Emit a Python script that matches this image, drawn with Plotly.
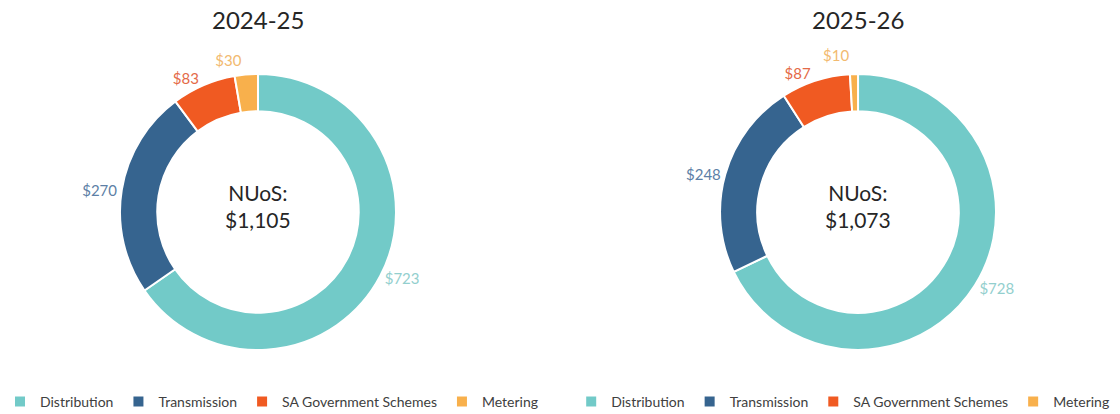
import plotly.graph_objects as go

categories = ["Distribution", "Transmission", "SA Government Schemes", "Metering"]
titles = ["2024-25", "2025-26"]
values_2024 = [723, 270, 83, 30]
values_2025 = [728, 248, 87, 10]
totals = ["$1,105", "$1,073"]

slice_colors = ["#72CAC8", "#36648F", "#F05A22", "#F8B04C"]
label_colors = ["#93CFCE", "#5D7FA6", "#E46A48", "#F2BA70"]

FONT = "Lato, 'Open Sans', sans-serif"

fig = go.Figure()

domains_x = [[0.1071, 0.3536], [0.6429, 0.8893]]
domain_y = [0.1546, 0.8213]
series = [values_2024, values_2025]
legends = ["legend", "legend2"]

for i, vals in enumerate(series):
    fig.add_trace(go.Pie(
        labels=categories,
        values=vals,
        hole=0.73,
        sort=False,
        direction="clockwise",
        rotation=0,
        domain=dict(x=domains_x[i], y=domain_y),
        marker=dict(colors=slice_colors, line=dict(color="white", width=2)),
        texttemplate="$%{value}",
        textposition="outside",
        textfont=dict(family=FONT, size=15, color=label_colors),
        legend=legends[i],
        legendgroup=f"g{i}",
        showlegend=True,
        hoverinfo="label+value",
    ))
    cx = (domains_x[i][0] + domains_x[i][1]) / 2
    fig.add_annotation(
        x=cx, y=(domain_y[0] + domain_y[1]) / 2 + 0.015, xref="paper", yref="paper",
        text=f"NUoS:<br>{totals[i]}", showarrow=False,
        font=dict(family=FONT, size=21, color="#262626"),
        xanchor="center", yanchor="middle",
    )
    fig.add_annotation(
        x=cx, y=1 - 20 / 414, xref="paper", yref="paper",
        text=titles[i], showarrow=False,
        font=dict(family=FONT, size=24, color="#262626"),
        xanchor="center", yanchor="middle",
    )

legend_common = dict(
    orientation="h", yanchor="middle", xanchor="left",
    font=dict(family=FONT, size=14, color="#404040"),
    bgcolor="rgba(0,0,0,0)", itemwidth=30, tracegroupgap=0,
    traceorder="normal",
)
fig.update_layout(
    width=1120, height=414,
    margin=dict(l=0, r=0, t=0, b=0, autoexpand=False),
    paper_bgcolor="white", plot_bgcolor="white",
    legend=dict(x=0.0, y=1 - 402 / 414, **legend_common),
    legend2=dict(x=0.510, y=1 - 402 / 414, **legend_common),
)

fig.write_html(
    "out.html",
    config={"displayModeBar": False},
    post_script=(
        "document.body.style.margin='0';"
        "document.querySelectorAll('path.textline').forEach(function(e){e.style.display='none';});"
    ),
)
